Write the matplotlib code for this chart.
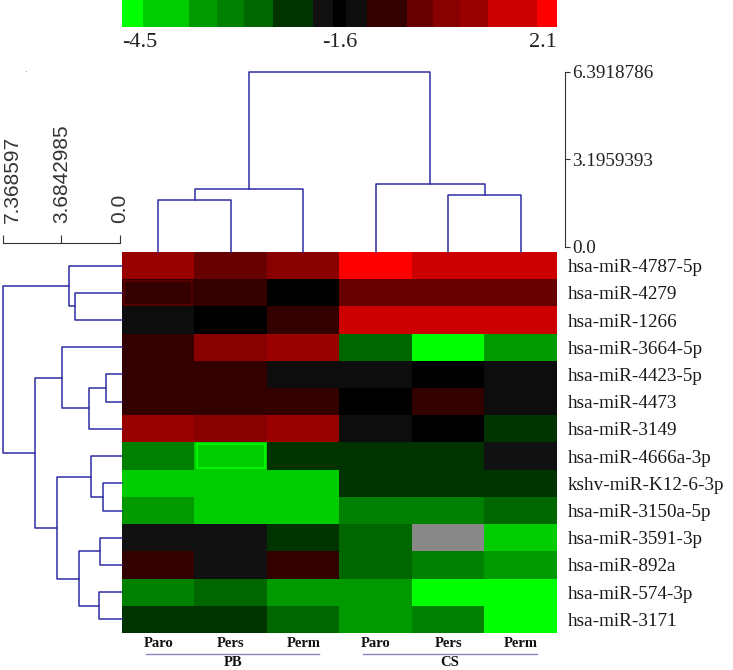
import matplotlib
matplotlib.use("Agg")
import matplotlib.pyplot as plt
import numpy as np
from matplotlib.colors import ListedColormap, TwoSlopeNorm
from matplotlib.patches import Rectangle

# ---- data ----
samples = ["Paro", "Pers", "Perm", "Paro", "Pers", "Perm"]
groups = ["PB", "CS"]
group_cols = [(0, 3), (3, 6)]
mirnas = [
    "hsa-miR-4787-5p", "hsa-miR-4279", "hsa-miR-1266", "hsa-miR-3664-5p",
    "hsa-miR-4423-5p", "hsa-miR-4473", "hsa-miR-3149", "hsa-miR-4666a-3p",
    "kshv-miR-K12-6-3p", "hsa-miR-3150a-5p", "hsa-miR-3591-3p", "hsa-miR-892a",
    "hsa-miR-574-3p", "hsa-miR-3171",
]
values = np.array([
    [0.7, -0.2, 0.2, 2.0, 1.3, 1.3],
    [-0.8, -0.8, -1.6, -0.2, -0.2, -0.2],
    [-1.3, -1.6, -0.8, 1.3, 1.3, 1.3],
    [-0.8, 0.2, 0.7, -2.7, -4.4, -3.4],
    [-0.8, -0.8, -1.3, -1.3, -1.6, -1.3],
    [-0.8, -0.8, -0.8, -1.6, -0.8, -1.3],
    [0.7, 0.2, 0.7, -1.3, -1.6, -2.2],
    [-3.05, -3.9, -2.2, -2.2, -2.2, -1.8],
    [-3.9, -3.9, -3.9, -2.2, -2.2, -2.2],
    [-3.4, -3.9, -3.9, -3.05, -3.05, -2.7],
    [-1.8, -1.8, -2.2, -2.7, np.nan, -3.9],
    [-0.8, -1.8, -0.8, -2.7, -3.05, -3.4],
    [-3.05, -2.7, -3.4, -3.4, -4.4, -4.4],
    [-2.2, -2.2, -2.7, -3.4, -3.05, -4.4],
])
# cells drawn with a highlight frame in the original: (row, col)
framed_cells = [(1, 0), (7, 1)]

# merges: (child a, child b, height); new nodes numbered from n upwards
col_merges = [(0, 1, 1.72), (6, 2, 2.12), (4, 5, 1.90), (3, 8, 2.30), (7, 9, 6.3918786)]
row_merges = [
    (1, 2, 2.83), (0, 14, 3.21), (4, 5, 0.88), (16, 6, 1.95), (3, 17, 3.65),
    (8, 9, 1.07), (7, 19, 1.83), (10, 11, 1.26), (12, 13, 1.32), (21, 22, 2.58),
    (20, 23, 3.97), (18, 24, 5.35), (15, 25, 7.368597),
]
col_scale = [0.0, 3.1959393, 6.3918786]
row_scale = [0.0, 3.6842985, 7.368597]

vmin, vcenter, vmax = -4.5, -1.6, 2.1

# ---- colour scale (stepped, as in the original legend) ----
block_colors = ["#00FF00", "#00CC00", "#009900", "#008000", "#006600", "#003300",
                "#111111", "#000000", "#0D0D0D", "#330000", "#660000", "#880000",
                "#990000", "#CC0000", "#FF0000"]
block_edges = [0, 0.048, 0.156, 0.217, 0.279, 0.348, 0.440, 0.486, 0.516,
               0.563, 0.655, 0.716, 0.777, 0.843, 0.954, 1.0]
N = 400
samp = (np.arange(N) + 0.5) / N
idx = np.searchsorted(block_edges, samp) - 1
cmap = ListedColormap([block_colors[i] for i in idx])
cmap.set_bad("#888888")
norm = TwoSlopeNorm(vmin=vmin, vcenter=vcenter, vmax=vmax)

W, H = 733, 670
fig = plt.figure(figsize=(W / 100, H / 100), dpi=100)


def box(x0, y0, x1, y1):
    # pixel box (top-left origin) -> figure fraction rect
    return [x0 / W, 1 - y1 / H, (x1 - x0) / W, (y1 - y0) / H]


line_kw = dict(color="#2E2EA0", lw=1.1, clip_on=False)


def draw_dendro(ax, n, merges, base, vertical):
    pos = {i: i + 0.5 for i in range(n)}
    hgt = {i: base for i in range(n)}
    for k, (a, b, h) in enumerate(merges):
        p = [pos[a], pos[a], pos[b], pos[b]]
        q = [hgt[a], h, h, hgt[b]]
        if vertical:
            ax.plot(p, q, **line_kw)
        else:
            ax.plot(q, p, **line_kw)
        pos[n + k] = (pos[a] + pos[b]) / 2
        hgt[n + k] = h


# heatmap
ax = fig.add_axes(box(122, 252, 557, 633))
im = ax.imshow(np.ma.masked_invalid(values), cmap=cmap, norm=norm, aspect="auto",
               interpolation="nearest", extent=(0, 6, 14, 0))
# highlight frames, a shade lighter than the cell itself
for r, c in framed_cells:
    fc = np.array(cmap(norm(values[r, c])))
    ec = np.clip(fc[:3] * 1.25 + 0.12 * (fc[:3] > 0), 0, 1)
    ax.add_patch(Rectangle((c + 0.03, r + 0.05), 0.94, 0.88, fill=False,
                           edgecolor=ec, lw=1.2))
for s in ax.spines.values():
    s.set_visible(False)
ax.set_xticks(np.arange(6) + 0.5)
ax.set_xticklabels(samples, family="Liberation Serif", fontsize=10.5,
                   fontweight="bold", color="#111111")
ax.set_yticks(np.arange(14) + 0.5)
ax.set_yticklabels(mirnas, family="Liberation Serif", fontsize=13.8, color="#1A1A1A")
ax.yaxis.tick_right()
ax.tick_params(axis="x", length=0, pad=3)
ax.tick_params(axis="y", length=0, pad=8)
for g, (c0, c1) in zip(groups, group_cols):
    x0, x1 = c0 + 0.33, c1 - 0.28
    ax.plot([x0, x1], [14.77, 14.77], color="#8A8AC0", lw=1.0, clip_on=False)
    ax.text((x0 + x1) / 2, 15.1, g, ha="center", va="center",
            family="Liberation Serif", fontsize=10.5, fontweight="bold", color="#111111")
ax.set_xlim(0, 6)
ax.set_ylim(14, 0)

# top dendrogram with its scale
axt = fig.add_axes(box(122, 66, 557, 252))
draw_dendro(axt, 6, col_merges, -0.183, True)
axt.set_xlim(0, 6)
axt.set_ylim(-0.183, 6.61)
axt.patch.set_visible(False)
for side in ["top", "bottom", "left"]:
    axt.spines[side].set_visible(False)
axt.spines["right"].set_position(("axes", 1.0184))
axt.spines["right"].set_bounds(col_scale[0], col_scale[-1])
axt.spines["right"].set_color("#333333")
axt.set_xticks([])
axt.yaxis.tick_right()
axt.set_yticks(col_scale)
axt.set_yticklabels([str(v) for v in col_scale], family="Liberation Serif",
                    fontsize=13.8, color="#222222")
axt.tick_params(axis="y", direction="out", length=3.6, pad=1.5, color="#333333")

# left dendrogram
axl = fig.add_axes(box(0, 252, 122, 633))
draw_dendro(axl, 14, row_merges, -0.126, False)
axl.set_xlim(7.557, -0.126)
axl.set_ylim(14, 0)
axl.axis("off")

# left scale bracket
axs = fig.add_axes(box(0, 243, 122, 244))
axs.set_xlim(7.557, -0.126)
axs.patch.set_visible(False)
for side in ["bottom", "left", "right"]:
    axs.spines[side].set_visible(False)
axs.spines["top"].set_bounds(row_scale[0], row_scale[-1])
axs.spines["top"].set_color("#333333")
axs.set_yticks([])
axs.xaxis.tick_top()
axs.set_xticks(row_scale)
axs.set_xticklabels([str(v) for v in row_scale], rotation=90, family="Liberation Sans",
                    fontsize=15, color="#333333")
axs.tick_params(axis="x", direction="out", length=5.8, pad=8.6, color="#333333")
axs.get_xticklabels()[-1].set_ha("left")

# colour bar
cax = fig.add_axes(box(122, 0, 557, 27))
cb = fig.colorbar(im, cax=cax, orientation="horizontal", ticks=[vmin, vcenter, vmax])
cb.outline.set_visible(False)
cb.ax.set_xticklabels([str(v) for v in [vmin, vcenter, vmax]],
                      family="Liberation Serif", fontsize=16, color="#222222")
cb.ax.tick_params(length=0, pad=4)
for lab, ha in zip(cb.ax.get_xticklabels(), ["left", "center", "right"]):
    lab.set_ha(ha)

fig.text(24 / W, 1 - 72 / H, ".", fontsize=6, color="#555555")

fig.savefig("out.png", dpi=100)
